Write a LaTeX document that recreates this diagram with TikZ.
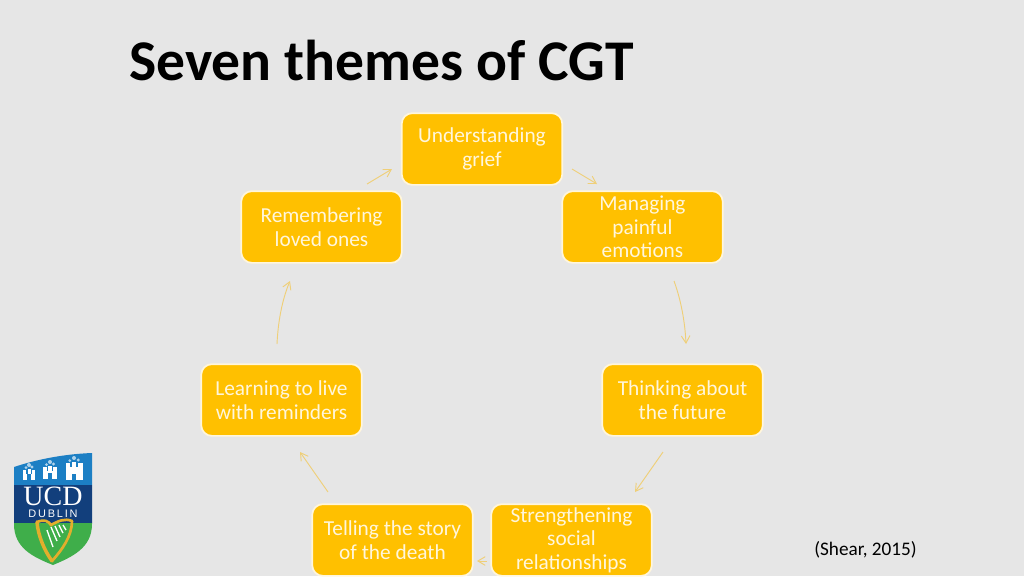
\documentclass[tikz,border=0pt]{standalone}
\usepackage{fontspec}
\setmainfont{Carlito}
\newfontfamily\serifface{Liberation Serif}
\newfontfamily\sansface{Liberation Sans}
\usetikzlibrary{arrows.meta}
\definecolor{bgc}{HTML}{E6E6E6}
\definecolor{boxc}{HTML}{FFC000}
\definecolor{boxt}{HTML}{FFF6DC}
\definecolor{arrc}{HTML}{EFCF78}
\definecolor{shblue}{HTML}{1C7FC4}
\definecolor{shnavy}{HTML}{123F7C}
\definecolor{shgreen}{HTML}{3FAE4A}
\definecolor{shgold}{HTML}{E3AE2C}
\tikzset{
  theme/.style={draw=boxt,line width=1.3pt,fill=boxc,rounded corners=8pt,minimum width=120.4pt,minimum height=53.8pt,
    inner sep=0pt,align=center,text=boxt,font=\fontsize{16pt}{17.6pt}\selectfont},
  link/.style={draw=arrc,line width=0.7pt,-{Straight Barb[length=5.5pt,width=6.5pt,line width=0.7pt]}}
}
% centre x, half width, top y, bottom y
\newcommand{\castle}[4]{%
  \fill[white] (#1-#2,#3+4) rectangle (#1+#2,#4);
  \fill[white] (#1-#2,#3) rectangle (#1-#2*0.45,#3+4);
  \fill[white] (#1-#2*0.25,#3-1) rectangle (#1+#2*0.25,#3+4);
  \fill[white] (#1+#2*0.45,#3) rectangle (#1+#2,#3+4);
  \fill[shblue] (#1-#2*0.28,#4-6) rectangle (#1+#2*0.28,#4);
  \fill[white!65!shblue] (#1-#2*0.5,#3-2.5) circle (1.5) (#1,#3-5) circle (2) (#1+#2*0.5,#3-3) circle (1.6);
}
\begin{document}
\begin{tikzpicture}[x=0.75pt,y=-0.75pt]
\useasboundingbox (0,0) rectangle (1024,576);
\fill[bgc] (0,0) rectangle (1024,576);
\node[anchor=base west,inner sep=0pt,font=\fontsize{43.2pt}{48pt}\selectfont\bfseries,text=black] (title) at (129,80.5) {Seven themes of CGT};

\node[theme] (under) at (482,149) {Understanding\\grief};
\node[theme] (manag) at (642.5,227) {Managing\\painful\\emotions};
\node[theme] (think) at (682.5,400) {Thinking about\\the future};
\node[theme] (stren) at (571.5,540) {Strengthening\\social\\relationships};
\node[theme] (tell) at (392.5,540) {Telling the story\\of the death};
\node[theme] (learn) at (281.5,400) {Learning to live\\with reminders};
\node[theme] (remem) at (321.5,227) {Remembering\\loved ones};

\coordinate (a1s) at (572,169); \coordinate (a1e) at (597,184);
\coordinate (a2s) at (674,281); \coordinate (a2e) at (686,344);
\coordinate (a3s) at (663,452); \coordinate (a3e) at (635,492);
\coordinate (a4s) at (487,561); \coordinate (a4e) at (477,561);
\coordinate (a5s) at (328,492); \coordinate (a5e) at (300,452);
\coordinate (a6s) at (277,344); \coordinate (a6e) at (290,281);
\coordinate (a7s) at (367,184); \coordinate (a7e) at (392,169);
\draw[link] (a1s) -- (a1e);
\draw[link] (a2s) .. controls (681,300) and (685,322) .. (a2e);
\draw[link] (a3s) -- (a3e);
\draw[link] (a4s) -- (a4e);
\draw[link] (a5s) -- (a5e);
\draw[link] (a6s) .. controls (278,322) and (282,300) .. (a6e);
\draw[link] (a7s) -- (a7e);

\node[anchor=base east,inner sep=0pt,text=black,font=\fontsize{14.4pt}{16pt}\selectfont] (cite) at (917,555) {(Shear, 2015)};

% logo
\begin{scope}
\clip (14,467) .. controls (38,459) and (65,454) .. (92,453) -- (92,524)
  .. controls (92,548) and (72,557) .. (53,565) .. controls (33,557) and (14,548) .. (14,524) -- cycle;
\fill[shblue] (10,450) rectangle (96,485);
\fill[shnavy] (10,485) rectangle (96,523);
\fill[shgreen] (10,523) rectangle (96,570);
\end{scope}
\castle{29}{6}{470}{480}
\castle{50}{7}{467}{479}
\castle{74}{8.5}{463}{480}
\node[anchor=base,inner sep=0pt,text=white,font=\serifface\fontsize{21pt}{21pt}\selectfont] (ucd) at (53,505) {UCD};
\node[anchor=base,inner sep=0pt,text=white,font=\sansface\fontsize{8.2pt}{8.2pt}\selectfont] (dublin) at (53,517) {D\,U\,B\,L\,I\,N};
% harp
\draw[shgold,line width=2.6pt,line cap=round] (37,522) .. controls (38,535) and (44,550) .. (52,561);
\draw[shgold,line width=2pt,line cap=round] (37,522) .. controls (45,519) and (48,521) .. (51,525) .. controls (58,521) and (65,518) .. (72,521);
\draw[shgold,line width=2pt,line cap=round] (72,521) .. controls (72,536) and (62,550) .. (52,561);
\draw[white,line width=1pt] (47,530)--(53,547) (51,527)--(57,541) (55,526)--(60,537) (59,525)--(63,533) (63,525)--(66,530);
\end{tikzpicture}
\end{document}
